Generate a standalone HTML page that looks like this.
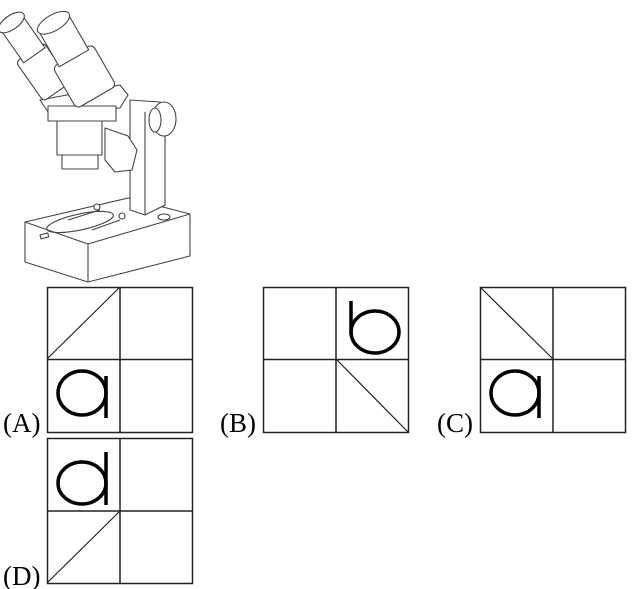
<!DOCTYPE html>
<html><head><meta charset="utf-8"><style>
html,body{margin:0;padding:0;background:#fff;width:633px;height:589px;overflow:hidden}
svg{position:absolute;left:0;top:0}
text{font-family:"Liberation Serif",serif;font-size:27px;fill:#000}
</style></head><body>
<svg width="633" height="589" viewBox="0 0 633 589">
<g fill="#fff" stroke="#444" stroke-width="1.1" stroke-linejoin="round">
  <polygon points="25,222 128,198 190,214 190,256 88,282 25,262"/>
  <polyline points="25,222 88,244 190,214" fill="none"/>
  <line x1="88" y1="244" x2="88" y2="282"/>
  <ellipse cx="80" cy="222" rx="34" ry="8" fill="none" transform="rotate(-12 80 222)"/>
  <line x1="68" y1="220" x2="100" y2="210"/><line x1="92" y1="230" x2="120" y2="220"/>
  <circle cx="97" cy="207" r="3"/><circle cx="122" cy="216" r="3"/>
  <ellipse cx="164" cy="217" rx="6" ry="3"/>
  <rect x="40" y="235" width="8" height="4" transform="rotate(-15 40 235)"/>
  <polygon points="130,100 160,102 165,112 165,205 145,215 130,210"/>
  <line x1="145" y1="112" x2="145" y2="215"/>
  <ellipse cx="164" cy="119" rx="12" ry="17"/>
  <ellipse cx="155" cy="120" rx="6" ry="12"/>
  <polygon points="40,100 120,85 128,95 120,108 50,115"/>
  <rect x="48" y="106" width="68" height="15"/>
  <rect x="57" y="121" width="45" height="34"/>
  <rect x="62" y="155" width="36" height="14"/>
  <polygon points="105,128 128,136 137,150 132,170 115,172 105,160"/>
  <g transform="rotate(-35 45 60)">
    <rect x="20" y="45" width="34" height="48" rx="4"/>
    <rect x="26" y="10" width="26" height="40"/>
    <ellipse cx="39" cy="10" rx="15" ry="7"/>
  </g>
  <g transform="rotate(-30 75 60)">
    <rect x="52" y="55" width="46" height="48" rx="5"/>
    <rect x="58" y="18" width="34" height="40"/>
    <ellipse cx="75" cy="17" rx="18" ry="8"/>
  </g>
</g>
<g fill="none" stroke="#222" stroke-width="1.5">
  <g>
    <rect x="47.5" y="287.5" width="145" height="145"/>
    <line x1="120" y1="287" x2="120" y2="432"/><line x1="47" y1="359.5" x2="192" y2="359.5"/>
    <line x1="47" y1="359" x2="120" y2="287" stroke-width="1.2"/>
  </g>
  <g>
    <rect x="263.5" y="287.5" width="145" height="145"/>
    <line x1="336" y1="287" x2="336" y2="432"/><line x1="263" y1="359.5" x2="408" y2="359.5"/>
    <line x1="336" y1="359" x2="408" y2="432" stroke-width="1.2"/>
  </g>
  <g>
    <rect x="480.5" y="287.5" width="145" height="145"/>
    <line x1="553" y1="287" x2="553" y2="432"/><line x1="480" y1="359.5" x2="625" y2="359.5"/>
    <line x1="480" y1="287" x2="553" y2="359" stroke-width="1.2"/>
  </g>
  <g>
    <rect x="47.5" y="438.5" width="145" height="145"/>
    <line x1="120" y1="438" x2="120" y2="583"/><line x1="47" y1="511" x2="192" y2="511"/>
    <line x1="47" y1="583" x2="120" y2="511" stroke-width="1.2"/>
  </g>
</g>
<g fill="none" stroke="#000" stroke-width="3.5">
  <g><ellipse cx="82" cy="393" rx="24" ry="22"/><line x1="106" y1="376" x2="106" y2="418"/></g>
  <g><ellipse cx="375" cy="332" rx="24" ry="21"/><line x1="351" y1="301" x2="351" y2="334"/></g>
  <g><ellipse cx="515" cy="393" rx="24" ry="22"/><line x1="539" y1="376" x2="539" y2="418"/></g>
  <g><ellipse cx="82" cy="483" rx="24" ry="21"/><line x1="106" y1="452" x2="106" y2="505"/></g>
</g>
<text x="3" y="432">(A)</text>
<text x="220" y="432">(B)</text>
<text x="437" y="432">(C)</text>
<text x="3" y="585">(D)</text>
</svg>
</body></html>
